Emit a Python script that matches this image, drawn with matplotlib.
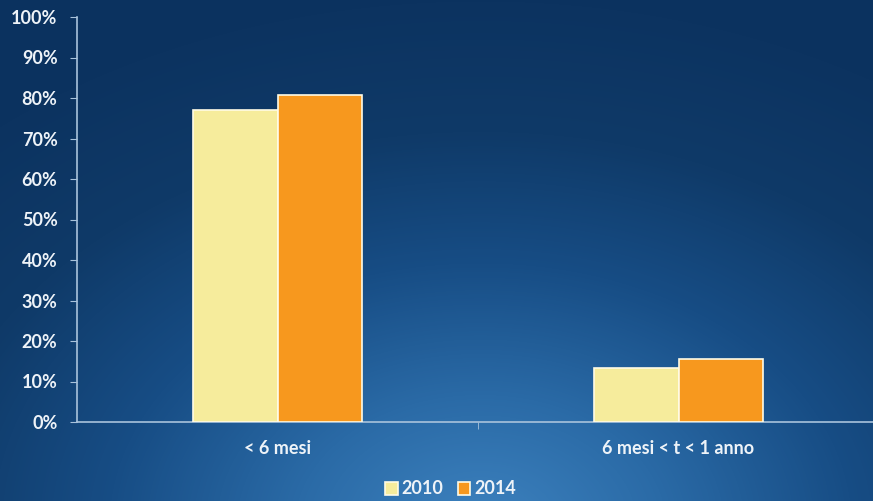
import numpy as np
import matplotlib
matplotlib.use("Agg")
import matplotlib.pyplot as plt
from matplotlib.colors import LinearSegmentedColormap

categories = ["< 6 mesi", "6 mesi < t < 1 anno"]
series_names = ["2010", "2014"]
values_2010 = [77.0, 13.3]
values_2014 = [80.7, 15.6]
yticks = [0, 10, 20, 30, 40, 50, 60, 70, 80, 90, 100]

W, H = 873, 501
fig = plt.figure(figsize=(W / 100, H / 100), dpi=100)

# background gradient
bg = fig.add_axes([0, 0, 1, 1])
bg.set_axis_off()
yy, xx = np.mgrid[0:H, 0:W]
cx, cy = 0.55 * W, 1.05 * H
d = np.sqrt(((xx - cx) / (0.85 * W)) ** 2 + ((yy - cy) / (1.05 * H)) ** 2)
d = np.clip(d, 0, 1)
cmap = LinearSegmentedColormap.from_list("bg", ["#3d82bf", "#2a6aa6", "#174d85", "#0f3a68", "#0c3360"])
bg.imshow(d, cmap=cmap, aspect="auto", extent=[0, 1, 0, 1], vmin=0, vmax=1)
bg.set_xlim(0, 1)
bg.set_ylim(0, 1)

left = 77 / W
right = 879 / W
bottom = 1 - 422 / H
top = 1 - 17 / H
ax = fig.add_axes([left, bottom, right - left, top - bottom])
ax.patch.set_alpha(0)

x = np.arange(len(categories))
bw = 0.21
c2010 = "#f6ec9c"
c2014 = "#f7981e"
ax.bar(x - bw / 2, values_2010, bw, color=c2010, edgecolor="#fffbe6", linewidth=1.2, label=series_names[0], zorder=3)
ax.bar(x + bw / 2, values_2014, bw, color=c2014, edgecolor="#fffbe6", linewidth=1.2, label=series_names[1], zorder=3)

ax.set_xlim(-0.5, 1.5)
ax.set_ylim(0, 100)
ax.set_yticks(yticks)
ax.set_yticklabels([f"{v}%" for v in yticks])
ax.set_xticks(x)
ax.set_xticklabels(categories)
ax.set_xticks([0.5], minor=True)

for s in ["top", "right"]:
    ax.spines[s].set_visible(False)
axis_col = "#a9c3dc"
ax.spines["left"].set_color(axis_col)
ax.spines["bottom"].set_color(axis_col)
ax.spines["left"].set_linewidth(1.2)
ax.spines["bottom"].set_linewidth(1.2)

txt_col = "#eef3f8"
fs = 13
ax.tick_params(axis="y", colors=axis_col, labelcolor=txt_col, length=5, direction="out", labelsize=fs, pad=9)
ax.tick_params(axis="x", which="major", length=0, labelcolor=txt_col, labelsize=fs, pad=13)
ax.tick_params(axis="x", which="minor", length=5, direction="out", color=axis_col)
for lab in ax.get_yticklabels() + ax.get_xticklabels():
    lab.set_fontfamily("Lato")
    lab.set_fontweight("bold")

leg = fig.legend(loc="center", bbox_to_anchor=(0.516, 1 - 489 / H), ncol=2, frameon=False,
                 prop={"family": "Lato", "weight": "bold", "size": fs},
                 handlelength=0.7, handleheight=0.7, handletextpad=0.2, columnspacing=0.8)
for t in leg.get_texts():
    t.set_color(txt_col)

fig.savefig("out.png", dpi=100)
